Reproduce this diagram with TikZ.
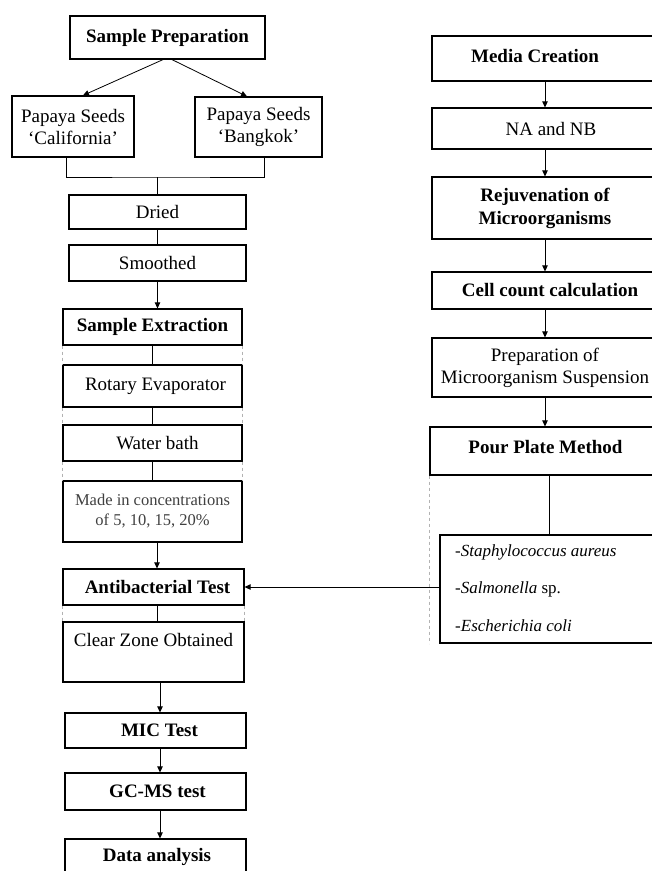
\documentclass[tikz,border=0pt]{standalone}
\usepackage{fontspec}
\setmainfont{Liberation Serif}
\usetikzlibrary{arrows.meta}
\begin{document}
\begin{tikzpicture}[x=1pt,y=-1pt,
  box/.style={draw,line width=1.2pt,inner sep=0pt,align=center,font=\fontsize{19}{22}\selectfont},
  bbox/.style={box,font=\bfseries\fontsize{19}{23}\selectfont},
  txt/.style={inner sep=0pt,font=\fontsize{19}{22}\selectfont},
  sptxt/.style={inner sep=0pt,anchor=west,font=\itshape\fontsize{17}{20}\selectfont},
  arr/.style={-{Triangle[length=6pt,width=5.5pt]},line width=0.8pt},
  ln/.style={line width=0.8pt},
  dsh/.style={draw=gray!60,dashed,line width=0.6pt}
]
\useasboundingbox[fill=white] (0,0) rectangle (652,871);

% ---------- left column ----------
\node[bbox,minimum width=195,minimum height=43] (sp) at (167.5,37.5) {Sample Preparation};
\node[box,minimum width=122,minimum height=61] (cal) at (73,126.5) {Papaya Seeds\\‘California’};
\node[box,minimum width=127,minimum height=60] (bkk) at (258.5,127) {Papaya Seeds\\‘Bangkok’};
\coordinate (j) at (157,177);
\node[box,minimum width=177,minimum height=34] (dried) at (157.5,212) {Dried};
\node[box,minimum width=177,minimum height=36] (smooth) at (157.5,263) {Smoothed};
\node[bbox,minimum width=179,minimum height=36] (ext) at (152.5,327) {Sample Extraction};
\node[box,minimum width=179,minimum height=42] (rot) at (152.5,386) {\hspace*{6pt}Rotary Evaporator};
\node[box,minimum width=179,minimum height=36] (wb) at (152.5,443) {\hspace*{10pt}Water bath};
\node[box,minimum width=179,minimum height=61,text=black!75,font=\fontsize{16.5}{20}\selectfont] (made) at (152.5,511.5) {Made in concentrations\\of 5, 10, 15, 20\%};
\node[bbox,minimum width=181,minimum height=36] (anti) at (153.5,587) {\hspace*{8pt}Antibacterial Test};
\node[box,minimum width=181,minimum height=60] (clear) at (153.5,652) {};
\node[txt] (cleartxt) at (153.5,640) {Clear Zone Obtained};
\node[bbox,minimum width=181,minimum height=35] (mic) at (155.5,730.5) {\hspace*{8pt}MIC Test};
\node[bbox,minimum width=181,minimum height=37] (gc) at (155.5,791.5) {\hspace*{4pt}GC-MS test};
\node[bbox,minimum width=181,minimum height=41] (data) at (155.5,859.5) {};
\node[txt,font=\bfseries\fontsize{19}{22}\selectfont] (datatxt) at (157,857) {Data analysis};

% ---------- right column ----------
\node[bbox,minimum width=226,minimum height=45] (media) at (545,58.5) {};
\node[txt,font=\bfseries\fontsize{19}{22}\selectfont] (mediatxt) at (535,56) {Media Creation};
\node[box,minimum width=226,minimum height=41] (nanb) at (545,128.5) {\hspace*{12pt}NA and NB};
\node[bbox,minimum width=226,minimum height=62] (rej) at (545,208) {Rejuvenation of\\Microorganisms};
\node[bbox,minimum width=226,minimum height=37] (cell) at (545,290.5) {\hspace*{10pt}Cell count calculation};
\node[box,minimum width=226,minimum height=59] (prep) at (545,367.5) {Preparation of\\Microorganism Suspension};
\node[bbox,minimum width=228,minimum height=48] (pour) at (544,451) {};
\node[txt,font=\bfseries\fontsize{19}{22}\selectfont] (pourtxt) at (545.5,447) {Pour Plate Method};
\node[draw,line width=1.2pt,minimum width=218,minimum height=108,inner sep=0pt] (species) at (549,589) {};
\node[sptxt] (s1) at (455,552) {-Staphylococcus aureus};
\node[sptxt] (s2) at (455,589) {-Salmonella \upshape sp.};
\node[sptxt] (s3) at (455,626) {-Escherichia coli};

% ---------- connectors ----------
\draw[arr] ([xshift=-4.5]sp.south) -- ([xshift=10]cal.north);
\draw[arr] ([xshift=4.5]sp.south) -- ([xshift=-11.5]bkk.north);
\draw[ln] ([xshift=-7]cal.south) |- (j) -| ([xshift=5.5]bkk.south);
\draw[ln] (j) -- (j |- dried.north);
\draw[ln] (dried) -- (smooth);
\draw[arr] (smooth.south) -- (smooth.south |- ext.north);
\draw[ln] (ext) -- (rot);
\draw[ln] (rot) -- (wb);
\draw[ln] (wb) -- (made);
\draw[arr] ([xshift=4.5]made.south) -- ([xshift=4.5]made.south |- anti.north);
\draw[ln] ([xshift=3.5]anti.south) -- ([xshift=3.5]anti.south |- clear.north);
\draw[arr] ([xshift=6.5]clear.south) -- ([xshift=6.5]clear.south |- mic.north);
\draw[arr] ([xshift=4.5]mic.south) -- ([xshift=4.5]mic.south |- gc.north);
\draw[arr] ([xshift=4.5]gc.south) -- ([xshift=4.5]gc.south |- data.north);

\draw[arr] (media) -- (nanb);
\draw[arr] (nanb) -- (rej);
\draw[arr] (rej) -- (cell);
\draw[arr] (cell) -- (prep);
\draw[arr] (prep.south) -- (prep.south |- pour.north);
\draw[ln] (pour.south -| species.north) -- (species.north);
\draw[arr] (species.west |- anti.east) -- (anti.east);

% dashed table guides (only in the gaps between boxes)
\draw[dsh] (ext.south west) -- (rot.north west);
\draw[dsh] (ext.south east) -- (rot.north east);
\draw[dsh] (rot.south west) -- (wb.north west);
\draw[dsh] (rot.south east) -- (wb.north east);
\draw[dsh] (wb.south west) -- (made.north west);
\draw[dsh] (wb.south east) -- (made.north east);
\draw[dsh] (anti.south west) -- (clear.north west);
\draw[dsh] (anti.south east) -- (clear.north east);
\draw[dsh] (pour.south west) -- (pour.south west |- species.south);
\end{tikzpicture}
\end{document}
